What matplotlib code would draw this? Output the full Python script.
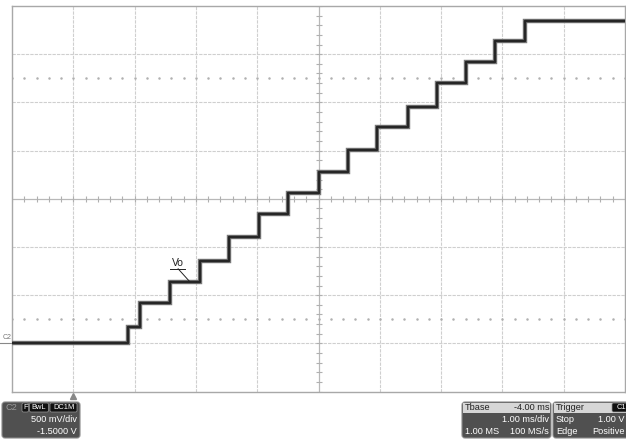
import numpy as np
import matplotlib
matplotlib.use("Agg")
import matplotlib.pyplot as plt
import matplotlib.transforms as mtransforms
from matplotlib.patches import FancyBboxPatch, Rectangle

plt.rcParams['font.family'] = ['Liberation Sans', 'DejaVu Sans']

# Staircase output Vo: edge times (ms after trigger) and plateau levels (V)
edge_t = [0.89, 1.09, 1.58, 2.07, 2.54, 3.03, 3.50, 4.01, 4.48, 4.95,
          5.46, 5.93, 6.41, 6.88, 7.37]
levels = [0.00, 0.17, 0.42, 0.64, 0.85, 1.10, 1.34, 1.56, 1.78, 2.01,
          2.24, 2.45, 2.70, 2.92, 3.14, 3.34]

# scope settings
t_left = -1.0          # ms at left edge of screen
ms_div = 1.0
v_div = 0.5
v_center = 1.5         # offset -1.5 V puts ground 3 div below centre
ndiv_x, ndiv_y = 10, 8

t_right = t_left + ndiv_x * ms_div
v_bot = v_center - ndiv_y / 2 * v_div
v_top = v_center + ndiv_y / 2 * v_div
t_center = t_left + ndiv_x / 2 * ms_div

W, H = 626, 441
fig = plt.figure(figsize=(W / 100, H / 100), dpi=100)
fig.patch.set_facecolor('white')
ax = fig.add_axes([12 / W, (H - 391.6) / H, 613 / W, 385.6 / H])
ax.set_xlim(t_left, t_right)
ax.set_ylim(v_bot, v_top)
ax.set_xticks([])
ax.set_yticks([])
for s in ax.spines.values():
    s.set_color('#a8a8a8')
    s.set_linewidth(1.0)

# graticule
grid_c = '#cfcfcf'
for i in range(1, ndiv_x):
    x = t_left + i * ms_div
    if x != t_center:
        ax.axvline(x, color=grid_c, lw=0.8, ls=(0, (3, 1)), zorder=1)
for j in range(1, ndiv_y):
    y = v_bot + j * v_div
    if y != v_center:
        ax.axhline(y, color=grid_c, lw=0.8, ls=(0, (3, 1)), zorder=1)
ax.axvline(t_center, color='#b8b8b8', lw=0.9, zorder=1)
ax.axhline(v_center, color='#b8b8b8', lw=0.9, zorder=1)

# minor ticks on the centre axes, 5 per division
mx = np.arange(t_left, t_right + 1e-9, ms_div / 5)
my = np.arange(v_bot, v_top + 1e-9, v_div / 5)
ax.plot(mx, np.full_like(mx, v_center), ls='none', marker='|', ms=4,
        mew=0.8, color='#b0b0b0', zorder=1)
ax.plot(np.full_like(my, t_center), my, ls='none', marker='_', ms=4,
        mew=0.8, color='#b0b0b0', zorder=1)

# dotted rise-time rows at +/-2.5 div
for yy in (v_center + 2.5 * v_div, v_center - 2.5 * v_div):
    ax.plot(mx, np.full_like(mx, yy), ls='none', marker='.', ms=1.6,
            color='#b0b0b0', zorder=1)

# trace
t_pts = [t_left] + edge_t + [t_right]
v_pts = levels + [levels[-1]]
ax.step(t_pts, v_pts, where='post', color='#7a7a7a', lw=3.2, zorder=3,
        solid_joinstyle='miter')
ax.step(t_pts, v_pts, where='post', color='#262626', lw=1.7, zorder=4)

# Vo label with leader
ax.text(1.70, 0.782, 'Vo', fontsize=7.5, color='#222222', ha='center',
        va='bottom', zorder=5)
ax.plot([1.58, 1.82], [0.774, 0.774], color='#222222', lw=0.7, zorder=5)
ax.plot([1.71, 1.90], [0.774, levels[3]], color='#222222', lw=0.7, zorder=5)

# ground marker and trigger marker
bl = mtransforms.blended_transform_factory(ax.transAxes, ax.transData)
ax.plot([-0.02, 0.0], [0.0, 0.0], color='#888888', lw=0.8,
        transform=bl, clip_on=False)
ax.text(-0.0155, 0.02, 'C2', fontsize=5, color='#777777', ha='left',
        va='bottom', transform=bl, clip_on=False)
bt = mtransforms.blended_transform_factory(ax.transData, ax.transAxes)
ax.plot([0.0], [-0.012], marker='^', ms=4, color='#888888', transform=bt,
        clip_on=False)

# readout panels along the bottom, laid out in pixel space
ov = fig.add_axes([0, 0, 1, 1], zorder=10)
ov.set_xlim(0, W)
ov.set_ylim(H, 0)
ov.axis('off')

body = '#505050'
head = '#d6d6d6'
fs = 6.6


def panel(x0, x1, y0, y1, header=False):
    ov.add_patch(FancyBboxPatch((x0, y0), x1 - x0, y1 - y0,
                                boxstyle='round,pad=0,rounding_size=3',
                                fc=body, ec='#8a8a8a', lw=0.8))
    if header:
        ov.add_patch(Rectangle((x0 + 1, y0 + 1), x1 - x0 - 2, 10,
                               fc=head, ec='none'))


def tag(x0, x1, y, s):
    ov.add_patch(FancyBboxPatch((x0, y - 4.5), x1 - x0, 9,
                                boxstyle='round,pad=0,rounding_size=1.5',
                                fc='#111111', ec='#999999', lw=0.5))
    ov.text((x0 + x1) / 2, y, s, fontsize=5.4, color='white',
            ha='center', va='center')


# channel panel
panel(2, 80, 402, 438)
ov.text(5, 407.5, 'C2', fontsize=fs, color='#9a9a9a', va='center')
tag(22, 28.5, 407.5, 'F')
tag(29.5, 48.5, 407.5, 'BwL')
tag(50, 77, 407.5, 'DC1M')
ov.text(77, 420, '500 mV/div', fontsize=fs, color='white', ha='right',
        va='center')
ov.text(77, 431.5, '-1.5000 V', fontsize=fs, color='white', ha='right',
        va='center')

# timebase panel
panel(462, 551, 402, 438, header=True)
ov.text(465, 407.5, 'Tbase', fontsize=fs, color='#222222', va='center')
ov.text(550, 407.5, '-4.00 ms', fontsize=fs, color='#222222', ha='right',
        va='center')
ov.text(549, 420, '1.00 ms/div', fontsize=fs, color='white', ha='right',
        va='center')
ov.text(465, 431.5, '1.00 MS', fontsize=fs, color='white', va='center')
ov.text(549, 431.5, '100 MS/s', fontsize=fs, color='white', ha='right',
        va='center')

# trigger panel (runs off the right edge)
panel(553, 660, 402, 438, header=True)
ov.text(556, 407.5, 'Trigger', fontsize=fs, color='#222222', va='center')
tag(612, 630, 407.5, 'C1')
ov.text(556, 420, 'Stop', fontsize=fs, color='white', va='center')
ov.text(625, 420, '1.00 V', fontsize=fs, color='white', ha='right',
        va='center')
ov.text(556, 431.5, 'Edge', fontsize=fs, color='white', va='center')
ov.text(625, 431.5, 'Positive', fontsize=fs, color='white', ha='right',
        va='center')

fig.savefig('out.png', dpi=100)
